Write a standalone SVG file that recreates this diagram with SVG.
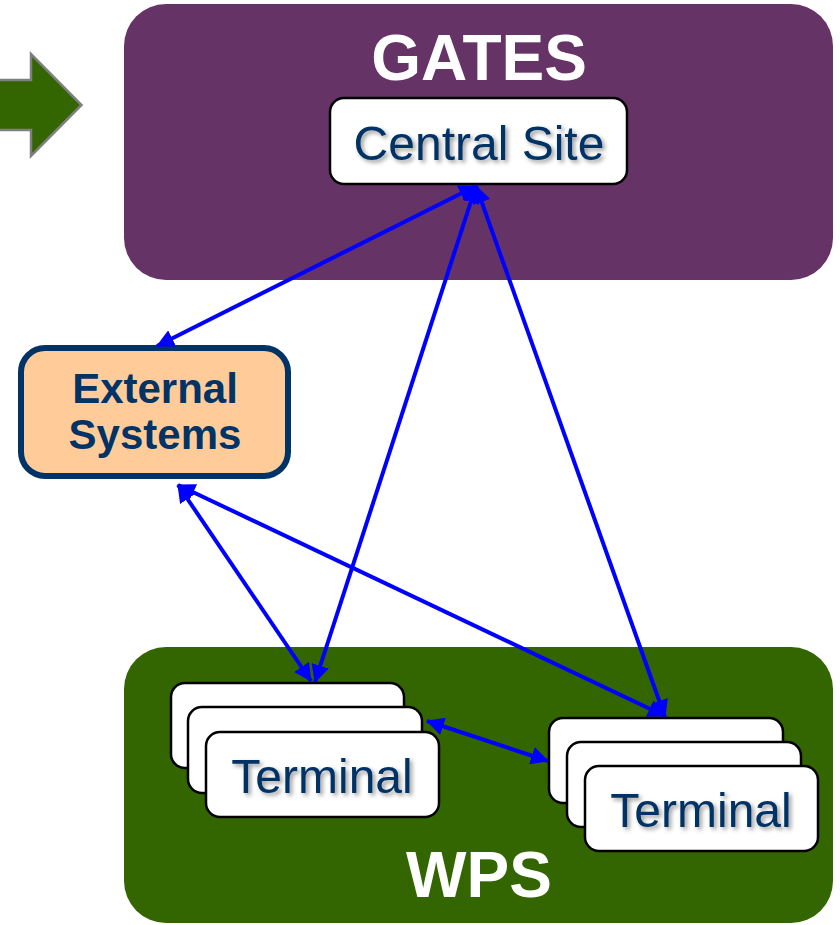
<svg xmlns="http://www.w3.org/2000/svg" width="840" height="925" viewBox="0 0 840 925">
<style>
text{font-family:"Liberation Sans",Arial,sans-serif;text-anchor:middle}
.t{font-size:48px;fill:#003366;filter:url(#ts)}
.h{font-size:64px;font-weight:bold;fill:#fff}
.e{font-size:42px;font-weight:bold;fill:#003366}
.b{fill:#fff;stroke:#000;stroke-width:2.5}
.c{stroke:#0000ff;stroke-width:4;fill:none;marker-start:url(#ah);marker-end:url(#ah)}
</style>
<defs>
<filter id="ts" x="-10%" y="-20%" width="120%" height="150%"><feDropShadow dx="2.500" dy="2.500" stdDeviation="2" flood-color="#000" flood-opacity="0.4"/></filter>
<marker id="ah" markerUnits="userSpaceOnUse" markerWidth="18" markerHeight="18" viewBox="0 0 18 18" refX="17" refY="9" orient="auto-start-reverse"><path d="M0 0L18 9L0 18z" fill="#0000ff"/></marker>
</defs>
<rect width="840" height="925" fill="#fff"/>
<g id="arrow"><path d="M-5 80H31V54L81.500 105L31 156V130H-5z" fill="#336600" stroke="#7f7f7f" stroke-width="2.500"/></g>
<g id="gates"><rect x="124" y="4" width="709" height="276" rx="42" fill="#663366"/><text class="h" x="479" y="80">GATES</text></g>
<g id="wps"><rect x="124" y="647" width="709" height="276" rx="42" fill="#336600"/><text class="h" x="479" y="897">WPS</text></g>
<g id="central-site"><rect class="b" x="330" y="98" width="297" height="86" rx="14"/><text class="t" x="479" y="160">Central Site</text></g>
<g id="external-systems"><rect x="21" y="348" width="267" height="128" rx="24" fill="#ffcc99" stroke="#003366" stroke-width="6"/><text class="e" x="155" y="403">External</text><text class="e" x="155" y="449">Systems</text></g>
<g id="connectors">
<line class="c" x1="476" y1="186" x2="157" y2="346"/>
<line class="c" x1="476" y1="186" x2="315" y2="682"/>
<line class="c" x1="476" y1="186" x2="665" y2="717"/>
<line class="c" x1="178" y1="485" x2="311" y2="681"/>
<line class="c" x1="178" y1="485" x2="665" y2="716"/>
<line class="c" x1="427" y1="721" x2="548" y2="761"/>
</g>
<g id="terminal-left">
<rect class="b" x="171" y="683" width="233" height="85" rx="14"/>
<rect class="b" x="188" y="707" width="234" height="86" rx="14"/>
<rect class="b" x="206" y="732" width="233" height="85" rx="14"/>
<text class="t" x="322" y="793">Terminal</text></g>
<g id="terminal-right">
<rect class="b" x="549" y="718" width="234" height="85" rx="14"/>
<rect class="b" x="567" y="742" width="234" height="85" rx="14"/>
<rect class="b" x="585" y="766" width="233" height="85" rx="14"/>
<text class="t" x="701" y="827">Terminal</text></g>
</svg>
